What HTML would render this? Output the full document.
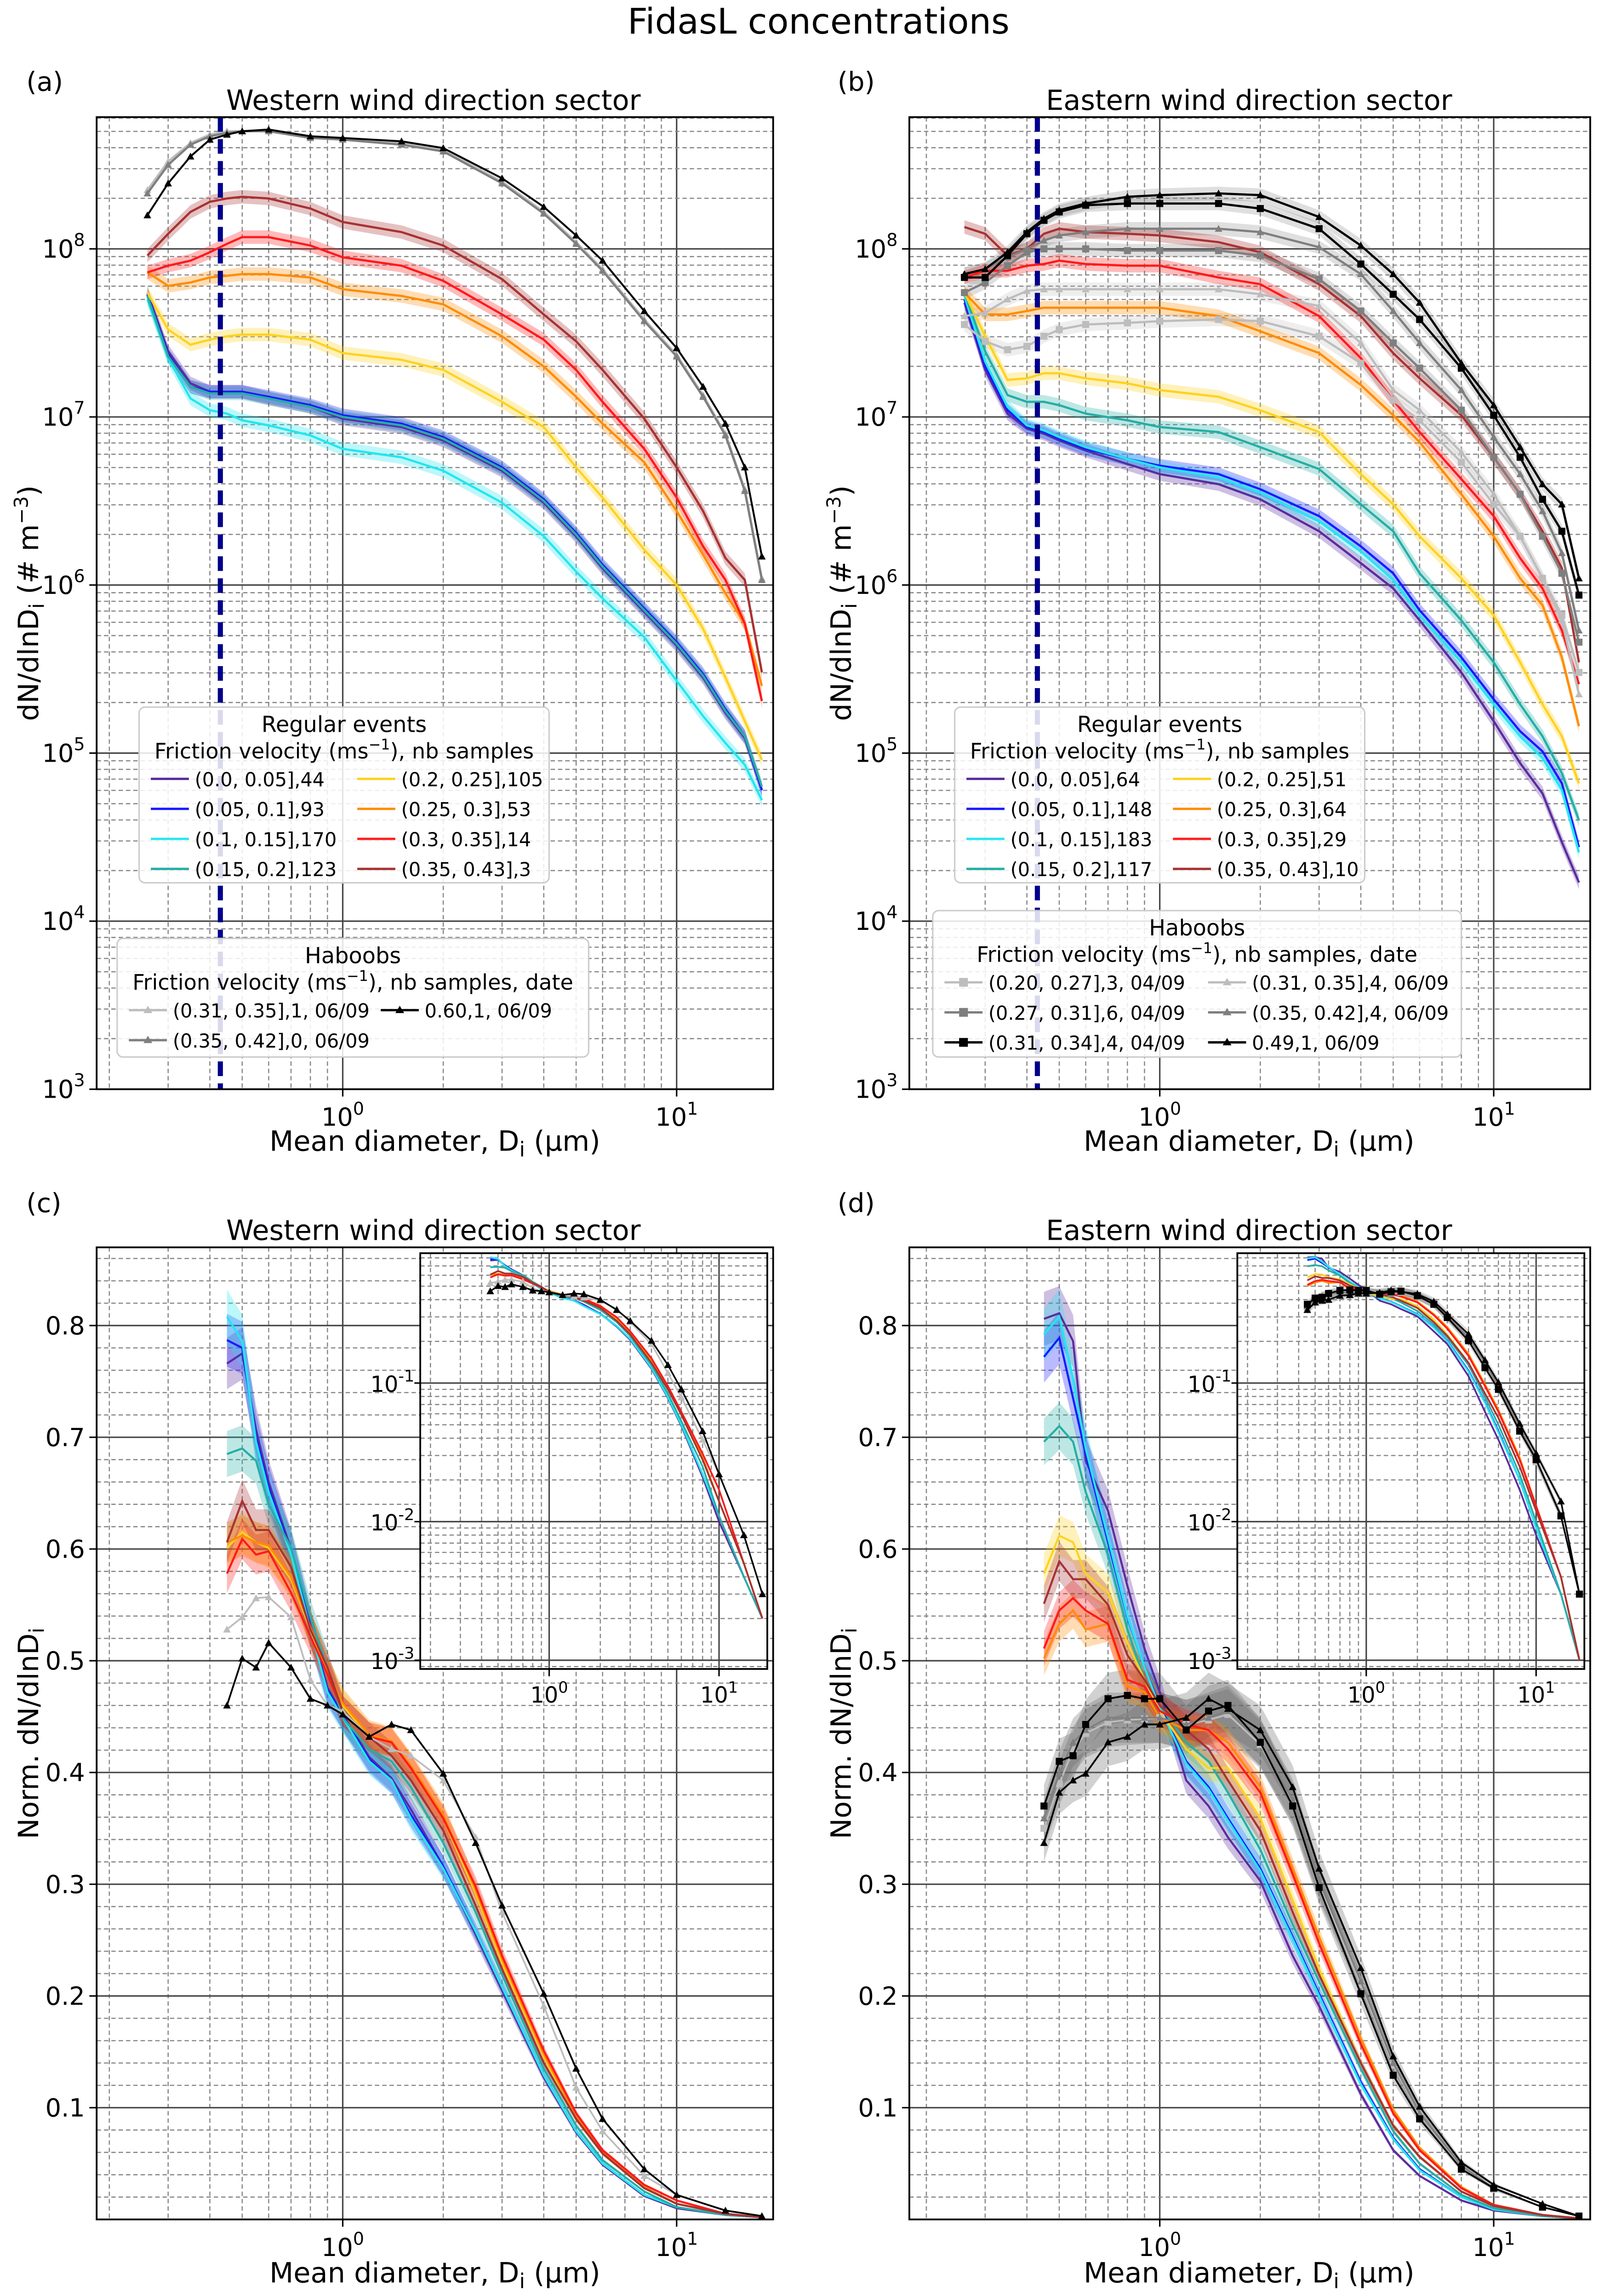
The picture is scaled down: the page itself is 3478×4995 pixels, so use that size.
<!DOCTYPE html>
<html><head><meta charset="utf-8"><style>
html,body{margin:0;padding:0;background:#fff}
svg{display:block}
text{font-family:"DejaVu Sans","Liberation Sans",sans-serif;fill:#000}
</style></head><body>
<svg id="fig" xmlns="http://www.w3.org/2000/svg" width="3478" height="4995" viewBox="0 0 1092 1568.3" preserveAspectRatio="none">
<rect width="1092" height="1568.3" fill="#fff"/>
<text x="559" y="23" font-size="24" text-anchor="middle">FidasL concentrations</text>
<g id="layer"></g>
</svg>
<script>
// ---------- DATA ----------
const diam = [0.26,0.3,0.35,0.4,0.45,0.5,0.6,0.8,1,1.5,2,3,4,5,6,8,10,12,14,16,18];
const cutoff = 0.43;
// panel (a) log10 dN/dlnD
const aPurple=[7.74,7.39,7.20,7.15,7.15,7.15,7.11,7.06,6.99,6.94,6.86,6.68,6.49,6.29,6.10,5.84,5.64,5.45,5.24,5.09,4.78];
const aBlue=[7.73,7.37,7.18,7.15,7.15,7.15,7.12,7.07,7.01,6.96,6.88,6.70,6.51,6.31,6.12,5.86,5.66,5.47,5.26,5.10,4.78];
const aCyan=[7.70,7.35,7.11,7.04,7.02,6.98,6.95,6.89,6.81,6.76,6.68,6.49,6.29,6.08,5.92,5.69,5.43,5.22,5.06,4.93,4.72];
const aTeal=[7.72,7.36,7.18,7.14,7.14,7.14,7.11,7.06,7.00,6.95,6.87,6.69,6.50,6.30,6.11,5.85,5.65,5.46,5.25,5.10,4.80];
const aYellow=[7.74,7.52,7.43,7.46,7.48,7.49,7.49,7.46,7.38,7.34,7.28,7.09,6.94,6.70,6.52,6.21,6.00,5.74,5.45,5.19,4.96];
const aOrange=[7.86,7.78,7.80,7.83,7.84,7.85,7.85,7.83,7.76,7.72,7.67,7.48,7.30,7.12,6.96,6.73,6.44,6.18,5.95,5.77,5.40];
const aRed=[7.86,7.90,7.93,7.98,8.03,8.07,8.07,8.02,7.95,7.90,7.81,7.61,7.46,7.28,7.09,6.81,6.52,6.23,6.03,5.77,5.31];
const aBrown=[7.96,8.09,8.22,8.28,8.30,8.31,8.30,8.24,8.16,8.10,8.02,7.82,7.61,7.45,7.28,6.99,6.70,6.44,6.16,6.03,5.48];
const aHabLight=[8.35,8.52,8.63,8.68,8.70,8.70,8.71,8.67,8.66,8.63,8.59,8.40,8.22,8.04,7.88,7.58,7.37,7.13,6.90,6.57,6.04];
const aHabGray=[8.33,8.50,8.62,8.67,8.69,8.70,8.70,8.66,8.65,8.62,8.58,8.39,8.21,8.03,7.87,7.57,7.36,7.12,6.89,6.56,6.03];
const aHabBlack=[8.20,8.39,8.55,8.65,8.68,8.70,8.71,8.67,8.66,8.64,8.60,8.42,8.25,8.08,7.93,7.63,7.41,7.18,6.96,6.70,6.17];
// panel (b)
const bPurple=[7.68,7.28,7.02,6.93,6.90,6.86,6.80,6.72,6.66,6.60,6.51,6.32,6.13,5.98,5.79,5.48,5.19,4.94,4.76,4.47,4.23];
const bBlue=[7.70,7.30,7.04,6.94,6.91,6.87,6.81,6.75,6.71,6.66,6.57,6.41,6.23,6.07,5.85,5.57,5.32,5.13,5.01,4.82,4.44];
const bCyan=[7.72,7.33,7.06,6.95,6.92,6.88,6.82,6.75,6.70,6.64,6.55,6.38,6.20,6.03,5.82,5.54,5.29,5.10,4.97,4.78,4.41];
const bTeal=[7.74,7.39,7.13,7.09,7.09,7.07,7.02,6.98,6.94,6.91,6.82,6.69,6.48,6.32,6.07,5.79,5.54,5.29,5.10,4.88,4.60];
const bYellow=[7.74,7.48,7.22,7.23,7.26,7.26,7.23,7.20,7.16,7.12,7.04,6.91,6.66,6.48,6.29,6.04,5.82,5.54,5.29,5.10,4.82];
const bOrange=[7.74,7.61,7.61,7.63,7.65,7.65,7.65,7.65,7.65,7.60,7.51,7.38,7.19,7.01,6.85,6.54,6.29,6.04,5.88,5.57,5.16];
const bRed=[7.83,7.87,7.87,7.90,7.91,7.93,7.91,7.90,7.90,7.83,7.79,7.60,7.35,7.10,6.91,6.63,6.41,6.16,5.98,5.73,5.41];
const bBrown=[8.13,8.09,7.96,8.00,8.09,8.12,8.10,8.09,8.08,8.04,7.98,7.79,7.60,7.38,7.23,7.01,6.76,6.54,6.32,6.10,5.54];
const bHab020=[7.55,7.45,7.40,7.42,7.48,7.52,7.55,7.56,7.57,7.58,7.57,7.48,7.32,7.10,6.98,6.73,6.48,6.29,6.04,5.82,5.48];
const bHab027=[7.74,7.80,7.90,7.98,8.00,8.00,8.00,7.99,7.99,7.99,7.96,7.82,7.63,7.44,7.29,7.04,6.76,6.54,6.29,6.07,5.66];
const bHab031=[7.83,7.83,7.96,8.09,8.17,8.22,8.26,8.27,8.27,8.27,8.24,8.12,7.91,7.73,7.58,7.29,7.01,6.76,6.51,6.32,5.94];
const bHab031b=[7.60,7.62,7.70,7.75,7.76,7.76,7.76,7.76,7.76,7.76,7.73,7.66,7.44,7.16,7.04,6.79,6.54,6.29,6.04,5.79,5.35];
const bHab035=[7.85,7.88,7.95,8.00,8.05,8.08,8.10,8.12,8.12,8.12,8.10,8.01,7.85,7.63,7.44,7.16,6.88,6.66,6.44,6.19,5.73];
const bHab049=[7.85,7.88,7.98,8.10,8.18,8.23,8.27,8.31,8.32,8.33,8.32,8.19,8.02,7.85,7.68,7.32,7.07,6.82,6.60,6.48,6.04];
// normalized panels (c),(d)
const ndiam=[0.45,0.5,0.55,0.6,0.7,0.8,0.9,1,1.2,1.4,1.6,2,2.5,3,4,5,6,8,10,14,18];
const cPurple=[.766,.775,.707,.66,.60,.532,.476,.452,.414,.395,.367,.316,.255,.205,.127,.078,.049,.021,.010,.004,.002];
const cBlue=[.787,.780,.70,.655,.597,.530,.474,.451,.412,.393,.362,.316,.258,.208,.129,.079,.050,.022,.011,.004,.002];
const cCyan=[.808,.786,.696,.651,.595,.528,.472,.449,.410,.393,.359,.314,.258,.208,.129,.079,.050,.022,.011,.004,.002];
const cTeal=[.685,.690,.679,.640,.601,.539,.494,.449,.421,.410,.387,.337,.275,.219,.135,.084,.053,.025,.011,.004,.002];
const cYellow=[.601,.615,.606,.601,.573,.528,.488,.460,.432,.427,.404,.359,.292,.230,.146,.090,.059,.028,.014,.005,.002];
const cOrange=[.606,.612,.606,.603,.575,.530,.49,.462,.434,.428,.406,.362,.295,.233,.148,.092,.060,.029,.014,.005,.002];
const cRed=[.578,.609,.595,.598,.561,.522,.488,.455,.432,.427,.404,.359,.298,.236,.151,.095,.062,.031,.017,.005,.002];
const cBrown=[.606,.643,.617,.617,.584,.528,.494,.455,.432,.415,.393,.348,.281,.224,.140,.090,.059,.028,.014,.005,.002];
const cHabLight=[.528,.539,.556,.557,.539,.483,.460,.455,.432,.421,.415,.393,.342,.275,.191,.118,.079,.039,.022,.008,.003];
const cHabBlack=[.460,.502,.494,.516,.494,.466,.460,.452,.432,.443,.438,.399,.337,.281,.202,.135,.090,.045,.022,.008,.003];
const dPurple=[.806,.811,.786,.679,.634,.567,.511,.472,.393,.370,.342,.303,.236,.191,.112,.062,.039,.017,.008,.003,.001];
const dBlue=[.772,.789,.735,.685,.606,.539,.494,.460,.410,.387,.359,.314,.253,.202,.123,.073,.045,.020,.009,.003,.001];
const dCyan=[.792,.808,.752,.69,.61,.54,.494,.458,.408,.385,.357,.312,.251,.200,.121,.072,.044,.020,.009,.003,.001];
const dTeal=[.696,.710,.696,.651,.595,.528,.483,.460,.427,.410,.382,.331,.264,.213,.135,.079,.050,.022,.010,.003,.001];
const dYellow=[.578,.612,.606,.578,.561,.516,.483,.455,.421,.404,.404,.359,.286,.224,.140,.084,.056,.025,.012,.004,.001];
const dOrange=[.502,.533,.545,.528,.533,.477,.472,.449,.438,.438,.427,.387,.314,.253,.162,.098,.064,.029,.013,.004,.001];
const dRed=[.511,.545,.556,.545,.533,.483,.477,.455,.443,.438,.421,.382,.309,.247,.157,.095,.062,.028,.013,.004,.001];
const dBrown=[.551,.589,.573,.573,.550,.505,.483,.460,.438,.421,.393,.348,.275,.219,.140,.084,.056,.025,.012,.004,.001];
const dHabGray=[.359,.399,.427,.438,.449,.449,.449,.449,.443,.449,.455,.427,.375,.303,.213,.140,.095,.048,.028,.011,.003];
const dHabLight=[.350,.39,.42,.435,.445,.447,.448,.449,.443,.447,.452,.425,.372,.300,.210,.138,.094,.047,.027,.011,.003];
const dHabBlackSq=[.370,.410,.415,.443,.466,.469,.466,.466,.438,.455,.460,.427,.370,.297,.202,.129,.090,.045,.028,.011,.003];
const dHabBlackTri=[.337,.382,.393,.399,.427,.432,.443,.443,.449,.466,.457,.438,.387,.314,.225,.146,.101,.051,.031,.014,.003];
const yTicksLog=[3,4,5,6,7,8];
const yTicksLin=[0.1,0.2,0.3,0.4,0.5,0.6,0.7,0.8];
const xTicksLog=[0,1];
const insetYTicks=[-3,-2,-1];

// ---------- RENDER ----------
const C={purple:'#5b2c9f',blue:'#1a1aff',cyan:'#22e6f0',teal:'#25aea6',yellow:'#ffd21f',orange:'#ff8c00',red:'#ff1a1a',brown:'#a83232',light:'#bdbdbd',gray:'#7f7f7f',black:'#000'};
const NS='http://www.w3.org/2000/svg';
const root=document.getElementById('layer');
function mk(tag,attrs,parent){const e=document.createElementNS(NS,tag);for(const k in attrs)e.setAttribute(k,attrs[k]);(parent||root).appendChild(e);return e;}
function axis(p){
  p.X=v=>p.x0+(Math.log10(v)-p.lx0)/(p.lx1-p.lx0)*(p.x1-p.x0);
  p.Y=p.ylog?(l=>p.y1-(l-p.ly0)/(p.ly1-p.ly0)*(p.y1-p.y0)):(v=>p.y1-(v-p.ly0)/(p.ly1-p.ly0)*(p.y1-p.y0));
  p.g=mk('g',{});
  
  
  const cid='clip'+p.name;
  const cp=mk('clipPath',{id:cid},p.g);mk('rect',{x:p.x0,y:p.y0,width:p.x1-p.x0,height:p.y1-p.y0},cp);
  mk('rect',{x:p.x0,y:p.y0,width:p.x1-p.x0,height:p.y1-p.y0,fill:'#fff'},p.g);
  const grid=mk('g',{'clip-path':'url(#'+cid+')'},p.g);
  
  
  for(let d=Math.floor(p.lx0);d<=Math.ceil(p.lx1);d++){for(let m=1;m<10;m++){const v=m*Math.pow(10,d);const lv=Math.log10(v);if(lv<p.lx0||lv>p.lx1)continue;const x=p.X(v);
    mk('line',{x1:x,x2:x,y1:p.y0,y2:p.y1,stroke:m==1?'#444':'#888','stroke-width':m==1?1:0.8,'stroke-dasharray':m==1?'':'3,2'},grid);}}
  if(p.ylog){for(let d=Math.floor(p.ly0);d<=Math.ceil(p.ly1);d++){for(let m=1;m<10;m++){const lv=d+Math.log10(m);if(lv<p.ly0||lv>p.ly1)continue;const y=p.Y(lv);
    mk('line',{x1:p.x0,x2:p.x1,y1:y,y2:y,stroke:m==1?'#444':'#888','stroke-width':m==1?1:0.8,'stroke-dasharray':m==1?'':'3,2'},grid);}}}
  else{for(let i=1;i<=Math.floor(p.ly1*50);i++){const v=i*0.02;const y=p.Y(v);const maj=(i%5==0);
    mk('line',{x1:p.x0,x2:p.x1,y1:y,y2:y,stroke:maj?'#444':'#888','stroke-width':maj?1:0.8,'stroke-dasharray':maj?'':'3,2'},grid);}}
  p.plot=mk('g',{'clip-path':'url(#'+cid+')'},p.g);
  mk('rect',{x:p.x0,y:p.y0,width:p.x1-p.x0,height:p.y1-p.y0,fill:'none',stroke:'#000','stroke-width':1.2},p.g);
  const fs=p.fs||17;
  xTicksLog.forEach(e=>{const x=p.X(Math.pow(10,e));mk('line',{x1:x,x2:x,y1:p.y1,y2:p.y1+5,stroke:'#000'},p.g);
    const t=mk('text',{x:x,y:p.y1+fs+8,'font-size':fs,'text-anchor':'middle'},p.g);
    t.innerHTML='10<tspan font-size="'+(fs*0.7)+'" dy="-'+(fs*0.45)+'">'+e+'</tspan>';});
}
function band(p,xs,ys,col,frac,lin,op){
  let top=[],bot=[];
  xs.forEach((x,i)=>{const v=ys[i];if(lin){top.push(p.X(x)+','+p.Y(v*(1+frac)));bot.unshift(p.X(x)+','+p.Y(v*(1-frac)));}
    else{top.push(p.X(x)+','+p.Y(v+frac));bot.unshift(p.X(x)+','+p.Y(v-frac));}});
  const b=mk('polygon',{points:top.concat(bot).join(' '),fill:col,opacity:op||0.3},p.plot);
  
  
}
function line(p,xs,ys,col,name,marker,w){
  const pts=xs.map((x,i)=>p.X(x)+','+p.Y(ys[i])).join(' ');
  const l=mk('polyline',{points:pts,fill:'none',stroke:col,'stroke-width':w||1.5},p.plot);
  
  
  if(marker){xs.forEach((x,i)=>{const cx=p.X(x),cy=p.Y(ys[i]);const s=marker=='tri'?2.6:2.4;
    if(marker=='tri')mk('polygon',{points:cx+','+(cy-s)+' '+(cx-s)+','+(cy+s*0.8)+' '+(cx+s)+','+(cy+s*0.8),fill:col},p.plot);
    else mk('rect',{x:cx-s,y:cy-s,width:2*s,height:2*s,fill:col},p.plot);});}
}
function yLogTicks(p){yTicksLog.forEach(e=>{const y=p.Y(e);mk('line',{x1:p.x0-5,x2:p.x0,y1:y,y2:y,stroke:'#000'},p.g);
  const t=mk('text',{x:p.x0-8,y:y+6,'font-size':17,'text-anchor':'end'},p.g);
  t.innerHTML='10<tspan font-size="12" dy="-8">'+e+'</tspan>';});}
function yLinTicks(p){yTicksLin.forEach(v=>{const y=p.Y(v);mk('line',{x1:p.x0-5,x2:p.x0,y1:y,y2:y,stroke:'#000'},p.g);
  const t=mk('text',{x:p.x0-8,y:y+6,'font-size':17,'text-anchor':'end'},p.g);t.textContent=v.toFixed(1);});}
function txt(x,y,s,fs,anchor,name,g){const t=mk('text',{x:x,y:y,'font-size':fs,'text-anchor':anchor||'start'},g);t.innerHTML=s;return t;}

const regNames=['purple','blue','cyan','teal','yellow','orange','red','brown'];
// ---- Panel a ----
const pa={name:'panel-a',x0:66,x1:528,y0:80,y1:744,lx0:-0.737,lx1:1.289,ylog:true,ly0:3,ly1:8.784};
axis(pa);yLogTicks(pa);
const aReg=[aPurple,aBlue,aCyan,aTeal,aYellow,aOrange,aRed,aBrown];
aReg.forEach((s,i)=>band(pa,diam,s,C[regNames[i]],0.04));
aReg.forEach((s,i)=>line(pa,diam,s,C[regNames[i]],'series-'+regNames[i]));
line(pa,diam,aHabLight,C.light,'haboob-031-035','tri');
line(pa,diam,aHabGray,C.gray,'haboob-035-042','tri');
line(pa,diam,aHabBlack,C.black,'haboob-060','tri',1.3);
// ---- Panel b ----
const pb={name:'panel-b',x0:621,x1:1086,y0:80,y1:744,lx0:-0.75,lx1:1.289,ylog:true,ly0:3,ly1:8.784};
axis(pb);yLogTicks(pb);
const bReg=[bPurple,bBlue,bCyan,bTeal,bYellow,bOrange,bRed,bBrown];
[[bHab020,C.light],[bHab031b,C.light],[bHab027,C.gray],[bHab035,C.gray],[bHab031,C.gray],[bHab049,C.gray]].forEach(s=>band(pb,diam,s[0],s[1],0.04,false,0.25));
bReg.forEach((s,i)=>band(pb,diam,s,C[regNames[i]],0.04));
bReg.forEach((s,i)=>line(pb,diam,s,C[regNames[i]],'series-'+regNames[i]));
line(pb,diam,bHab020,C.light,'haboob-020-027','sq');
line(pb,diam,bHab031b,C.light,'haboob-031-035','tri');
line(pb,diam,bHab027,C.gray,'haboob-027-031','sq');
line(pb,diam,bHab035,C.gray,'haboob-035-042','tri');
line(pb,diam,bHab031,C.black,'haboob-031-034','sq');
line(pb,diam,bHab049,C.black,'haboob-049','tri');
[pa,pb].forEach(p=>{const x=p.X(cutoff);const c=mk('line',{x1:x,x2:x,y1:p.y0,y2:p.y1,stroke:'#00008b','stroke-width':3.5,'stroke-dasharray':'10,5'},p.plot);
  });
// ---- Panel c,d ----
const pc={name:'panel-c',x0:66,x1:528,y0:852,y1:1516,lx0:-0.737,lx1:1.289,ylog:false,ly0:0,ly1:0.870};
const pd={name:'panel-d',x0:621,x1:1086,y0:852,y1:1516,lx0:-0.75,lx1:1.289,ylog:false,ly0:0,ly1:0.870};
axis(pc);yLinTicks(pc);axis(pd);yLinTicks(pd);
const cReg=[cPurple,cBlue,cCyan,cTeal,cYellow,cOrange,cRed,cBrown];
const dReg=[dPurple,dBlue,dCyan,dTeal,dYellow,dOrange,dRed,dBrown];
function drawNorm(p,reg,habs){
  habs.forEach(h=>{if(h[3])band(p,ndiam,h[0],'#666',0.05,true,0.3);});
  reg.forEach((s,i)=>band(p,ndiam,s,C[regNames[i]],0.03,true));
  reg.forEach((s,i)=>line(p,ndiam,s,C[regNames[i]],'series-'+regNames[i],null,1.4));
  habs.forEach(h=>line(p,ndiam,h[0],h[1],h[4],h[2],1.2));
}
const cHabs=[[cHabLight,C.light,'tri',false,'haboob-031-035'],[cHabBlack,C.black,'tri',false,'haboob-060']];
const dHabs=[[dHabLight,C.light,'sq',true,'haboob-020-027'],[dHabGray,C.gray,'tri',true,'haboob-035-042'],[dHabBlackSq,C.black,'sq',true,'haboob-031-034'],[dHabBlackTri,C.black,'tri',true,'haboob-049']];
drawNorm(pc,cReg,cHabs);drawNorm(pd,dReg,dHabs);
// insets
function inset(name,x0,x1,reg,habs){
  const p={name:name,x0:x0,x1:x1,y0:856,y1:1140,lx0:-0.759,lx1:1.284,ylog:true,ly0:-3.063,ly1:-0.063,fs:15};
  axis(p);
  insetYTicks.forEach(e=>{const y=p.Y(e);mk('line',{x1:p.x0-4,x2:p.x0,y1:y,y2:y,stroke:'#000'},p.g);
    const t=mk('text',{x:p.x0-4,y:y+6,'font-size':15,'text-anchor':'end'},p.g);
    t.innerHTML='10<tspan font-size="11" dy="-7">'+e+'</tspan>';});
  const lg=(a)=>a.map(v=>Math.log10(v));
  habs.forEach(h=>{if(h[3])band(p,ndiam,lg(h[0]),'#888',0.03);});
  reg.forEach((s,i)=>line(p,ndiam,lg(s),C[regNames[i]],'inset-series-'+regNames[i],null,1.2));
  habs.forEach(h=>line(p,ndiam,lg(h[0]),h[1],'inset-'+h[4],h[2],1.1));
}
inset('inset-c',287,524,cReg,cHabs);
inset('inset-d',845,1082,dReg,dHabs);

// titles, labels
const T=mk('g',{});
txt(296,75,'Western wind direction sector',19,'middle','panel-a-title',T);
txt(853,75,'Eastern wind direction sector',19,'middle','panel-b-title',T);
txt(296,847,'Western wind direction sector',19,'middle','panel-c-title',T);
txt(853,847,'Eastern wind direction sector',19,'middle','panel-d-title',T);
txt(18,62,'(a)',18,'start','panel-label-a',T);txt(572,62,'(b)',18,'start','panel-label-b',T);
txt(18,828,'(c)',18,'start','panel-label-c',T);txt(572,828,'(d)',18,'start','panel-label-d',T);
const xl='Mean diameter, D<tspan font-size="14" dy="4">i</tspan><tspan dy="-4"> (µm)</tspan>';
txt(297,786,xl,19,'middle','x-axis-title',T);txt(853,786,xl,19,'middle','x-axis-title',T);
txt(297,1559,xl,19,'middle','x-axis-title',T);txt(853,1559,xl,19,'middle','x-axis-title',T);
function ylab(x,y,s){const t=txt(0,0,s,19,'middle','y-axis-title',T);t.setAttribute('transform','translate('+x+','+y+') rotate(-90)');}
const yl1='dN/dlnD<tspan font-size="14" dy="4">i</tspan><tspan dy="-4"> (# m</tspan><tspan font-size="13" dy="-7">−3</tspan><tspan dy="7">)</tspan>';
ylab(26,412,yl1);ylab(581,412,yl1);
const yl2='Norm. dN/dlnD<tspan font-size="14" dy="4">i</tspan>';
ylab(26,1184,yl2);ylab(581,1184,yl2);

// legends
function legend(x,y,w,h,title,sub,entries,cols,colw,name){
  const g=mk('g',{});
  mk('rect',{x:x,y:y,width:w,height:h,rx:4,fill:'#fff','fill-opacity':0.85,stroke:'#ccc'},g);
  txt(x+w/2,y+17,title,15,'middle','legend-title',g);
  txt(x+w/2,y+35,sub,14.5,'middle','legend-subtitle',g);
  entries.forEach((e,i)=>{const c=Math.floor(i/Math.ceil(entries.length/cols)),r=i%Math.ceil(entries.length/cols);
    const ex=x+8+c*colw,ey=y+54+r*20.5;
    mk('line',{x1:ex,x2:ex+26,y1:ey-5,y2:ey-5,stroke:e[0],'stroke-width':1.6},g);
    if(e[2]=='tri')mk('polygon',{points:(ex+13)+','+(ey-8)+' '+(ex+10)+','+(ey-3)+' '+(ex+16)+','+(ey-3),fill:e[0]},g);
    if(e[2]=='sq')mk('rect',{x:ex+10,y:ey-8,width:6,height:6,fill:e[0]},g);
    txt(ex+30,ey,e[1],13,'start','legend-entry',g);});
}
const sub1='Friction velocity (ms<tspan font-size="10" dy="-6">−1</tspan><tspan dy="6">), nb samples</tspan>';
const sub2='Friction velocity (ms<tspan font-size="10" dy="-6">−1</tspan><tspan dy="6">), nb samples, date</tspan>';
legend(95,483,280,120,'Regular events',sub1,[[C.purple,'(0.0, 0.05],44'],[C.blue,'(0.05, 0.1],93'],[C.cyan,'(0.1, 0.15],170'],[C.teal,'(0.15, 0.2],123'],[C.yellow,'(0.2, 0.25],105'],[C.orange,'(0.25, 0.3],53'],[C.red,'(0.3, 0.35],14'],[C.brown,'(0.35, 0.43],3']],2,141,'legend-regular-a');
legend(80,641,322,81,'Haboobs',sub2,[[C.light,'(0.31, 0.35],1, 06/09','tri'],[C.gray,'(0.35, 0.42],0, 06/09','tri'],[C.black,'0.60,1, 06/09','tri']],2,172,'legend-haboob-a');
legend(652,483,280,120,'Regular events',sub1,[[C.purple,'(0.0, 0.05],64'],[C.blue,'(0.05, 0.1],148'],[C.cyan,'(0.1, 0.15],183'],[C.teal,'(0.15, 0.2],117'],[C.yellow,'(0.2, 0.25],51'],[C.orange,'(0.25, 0.3],64'],[C.red,'(0.3, 0.35],29'],[C.brown,'(0.35, 0.43],10']],2,141,'legend-regular-b');
legend(637,622,361,100,'Haboobs',sub2,[[C.light,'(0.20, 0.27],3, 04/09','sq'],[C.gray,'(0.27, 0.31],6, 04/09','sq'],[C.black,'(0.31, 0.34],4, 04/09','sq'],[C.light,'(0.31, 0.35],4, 06/09','tri'],[C.gray,'(0.35, 0.42],4, 06/09','tri'],[C.black,'0.49,1, 06/09','tri']],2,180,'legend-haboob-b');
</script>
</body></html>
